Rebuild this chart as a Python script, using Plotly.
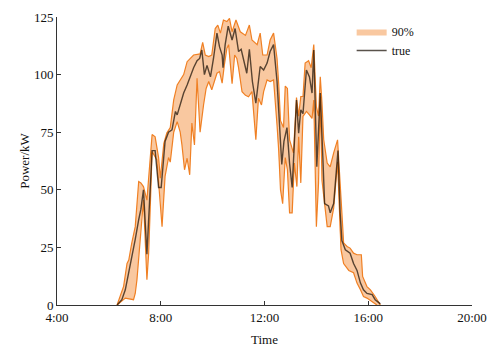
import plotly.graph_objects as go

# ---- data ----
true_time = ["6:19","6:30","6:38","6:46","6:53","7:01","7:09","7:14","7:20","7:28","7:40","7:47","7:55","8:01",
             "8:10","8:18","8:26","8:34","8:38","8:45","8:53","9:01","9:08","9:16","9:24","9:30","9:35","9:41",
             "9:47","9:55","10:02","10:10","10:16","10:22","10:24","10:29","10:36","10:45","10:52","11:00","11:06",
             "11:14","11:19","11:25","11:32","11:40","11:50","11:58","12:06","12:13","12:21","12:29","12:34","12:40",
             "12:45","12:52","12:58","13:04","13:14","13:19","13:24","13:29","13:37","13:44","13:50","13:54","14:01",
             "14:09","14:15","14:19","14:28","14:32","14:40","14:50","14:55","14:59","15:07","15:18","15:26","15:34",
             "15:42","15:49","15:57","16:09","16:16","16:28"]
true_power = [0, 2.3, 6.6, 14, 21, 28.5, 37, 41.5, 50, 22, 67, 67, 51, 51,
              71, 75, 76, 84, 82.5, 87, 92, 95.5, 99, 103, 106, 107, 110.7, 100,
              104, 99, 107, 118, 112, 108.5, 103, 113, 121, 115, 120, 110, 111,
              104, 100.6, 111, 97, 87.6, 103.5, 102, 105, 110, 113, 97, 78, 61,
              71, 77, 61.5, 51, 89, 74.6, 84.7, 83, 102, 99, 92, 110.7, 60,
              92, 64, 44, 43, 40, 44, 67, 40, 28, 24, 22.5, 18, 15,
              9.5, 6.6, 5, 4.5, 2.3, 0.5]

upper_time = ["6:19","6:26","6:34","6:42","6:46","6:53","7:01","7:09","7:14","7:20","7:28","7:40","7:47","7:55",
              "7:59","8:07","8:14","8:22","8:30","8:38","8:53","9:01","9:16","9:31","9:37","9:43","9:51","9:58",
              "10:06","10:12","10:18","10:25","10:33","10:39","10:45","10:54","11:04","11:16","11:25","11:31","11:43",
              "11:50","11:56","12:06","12:13","12:21","12:29","12:33","12:37","12:44","12:48","12:53","12:58","13:07",
              "13:14","13:19","13:24","13:29","13:34","13:42","13:48","13:54","14:00","14:05","14:09","14:13","14:17",
              "14:25","14:32","14:40","14:49","14:59","15:03","15:11","15:18","15:26","15:34","15:44","15:47","15:57",
              "16:05","16:16","16:24","16:28"]
upper_power = [0, 3.7, 8, 18, 19.5, 27, 34, 53.6, 53, 51.4, 45.5, 74, 73, 64,
               55, 70, 74.6, 77, 89, 95.5, 100, 105.6, 108.5, 109, 114, 108.5, 107.8, 108.5,
               120, 121.5, 118, 123.7, 123, 124.4, 118.6, 123.7, 118.6, 117, 121.5, 115, 113,
               118, 108.5, 108.5, 115, 118, 107, 95.5, 80, 77, 95, 94, 71.7, 66,
               90, 82, 90.5, 90.5, 105, 106, 103, 113, 86, 82, 99, 87.6, 71.7,
               61.6, 60, 66, 71.7, 40, 27, 25.4, 24.7, 22.5, 21.8, 21.8, 12.4, 8,
               6.6, 3.7, 1.6, 0]

lower_time = ["6:19","6:30","6:38","6:57","7:01","7:05","7:13","7:17","7:20","7:28","7:32","7:36","7:40","7:51",
              "7:59","8:03","8:10","8:18","8:22","8:30","8:38","8:45","8:49","8:55","9:01","9:07","9:12","9:18",
              "9:24","9:31","9:39","9:45","9:51","9:58","10:04","10:10","10:16","10:22","10:27","10:33","10:37",
              "10:45","10:51","10:56","11:00","11:08","11:16","11:23","11:31","11:40","11:46","11:53","11:58","12:06",
              "12:13","12:21","12:29","12:33","12:37","12:42","12:48","12:53","12:58","13:04","13:09","13:15","13:19",
              "13:24","13:29","13:37","13:44","13:50","13:54","14:00","14:05","14:09","14:13","14:18","14:25","14:32",
              "14:40","14:49","14:54","14:57","15:03","15:15","15:26","15:34","15:42","15:49","15:57","16:12","16:20"]
lower_power = [0, 1.6, 3, 2.3, 5, 11, 30, 41, 45.6, 11, 22.5, 44, 66.6, 63,
               45.6, 34, 55.8, 64, 62, 75, 79.6, 75, 69.5, 58.7, 63.7, 56.5, 79, 69.5,
               98.4, 75, 86.8, 94, 97, 93.4, 97, 100.6, 101.3, 96.3, 104, 111.4, 113,
               96, 108.5, 107, 103, 92.6, 91, 90.4, 92.6, 71.7, 89.7, 86.8, 92.6, 97.7,
               97, 97.7, 78, 66.6, 50, 44, 64, 58.7, 40, 40, 61.6, 51.4, 73,
               53, 81.8, 84, 82.5, 81, 89, 34, 53, 90.5, 54, 45.6, 34, 34,
               42, 62, 32.6, 24, 18, 15, 14, 9.5, 6.6, 3.7, 3, 0.9, 0]

x_ticks = [4, 8, 12, 16, 20]
x_tick_labels = ["4:00", "8:00", "12:00", "16:00", "20:00"]
y_ticks = [0, 25, 50, 75, 100, 125]


def to_hours(labels):
    out = []
    for s in labels:
        h, m = s.split(":")
        out.append(int(h) + int(m) / 60.0)
    return out


tx = to_hours(true_time)
ux = to_hours(upper_time)
lx = to_hours(lower_time)

FONT = "Liberation Serif, Times New Roman, serif"
FILL = "rgb(249,200,160)"
EDGE = "rgb(240,128,36)"

fig = go.Figure()
fig.add_trace(go.Scatter(
    x=ux + lx[::-1], y=upper_power + lower_power[::-1],
    fill="toself", fillcolor=FILL, mode="lines",
    line=dict(width=0, color=FILL), name="90%", hoverinfo="skip"))
fig.add_trace(go.Scatter(x=ux, y=upper_power, mode="lines",
                         line=dict(color=EDGE, width=1.2), showlegend=False))
fig.add_trace(go.Scatter(x=lx, y=lower_power, mode="lines",
                         line=dict(color=EDGE, width=1.2), showlegend=False))
fig.add_trace(go.Scatter(x=tx, y=true_power, mode="lines",
                         line=dict(color="rgba(25,15,5,0.72)", width=1.4), name="true"))

fig.update_layout(
    width=491, height=347,
    margin=dict(l=57, r=19, t=17, b=42),
    paper_bgcolor="white", plot_bgcolor="white",
    font=dict(family=FONT, size=13, color="#111"),
    showlegend=True,
    legend=dict(x=0.71, y=1.0, xanchor="left", yanchor="top",
                bgcolor="rgba(0,0,0,0)", font=dict(family=FONT, size=12),
                itemwidth=30, traceorder="grouped", tracegroupgap=9),
)
fig.update_xaxes(range=[4, 20], tickvals=x_ticks, ticktext=x_tick_labels,
                 showgrid=False, zeroline=False, showline=True, linecolor="#333",
                 linewidth=1, ticks="inside", ticklen=4, tickcolor="#333", automargin=False,
                 title=dict(text="Time", standoff=12, font=dict(family=FONT, size=13)))
fig.update_yaxes(range=[0, 125], tickvals=y_ticks,
                 showgrid=False, zeroline=False, showline=True, linecolor="#333",
                 linewidth=1, ticks="inside", ticklen=4, tickcolor="#333", automargin=False,
                 title=dict(text="Power/kW", standoff=1, font=dict(family=FONT, size=13)))

fig.write_html("out.html", config={"displayModeBar": False},
               post_script="document.body.style.margin='0';document.body.style.padding='0';")
